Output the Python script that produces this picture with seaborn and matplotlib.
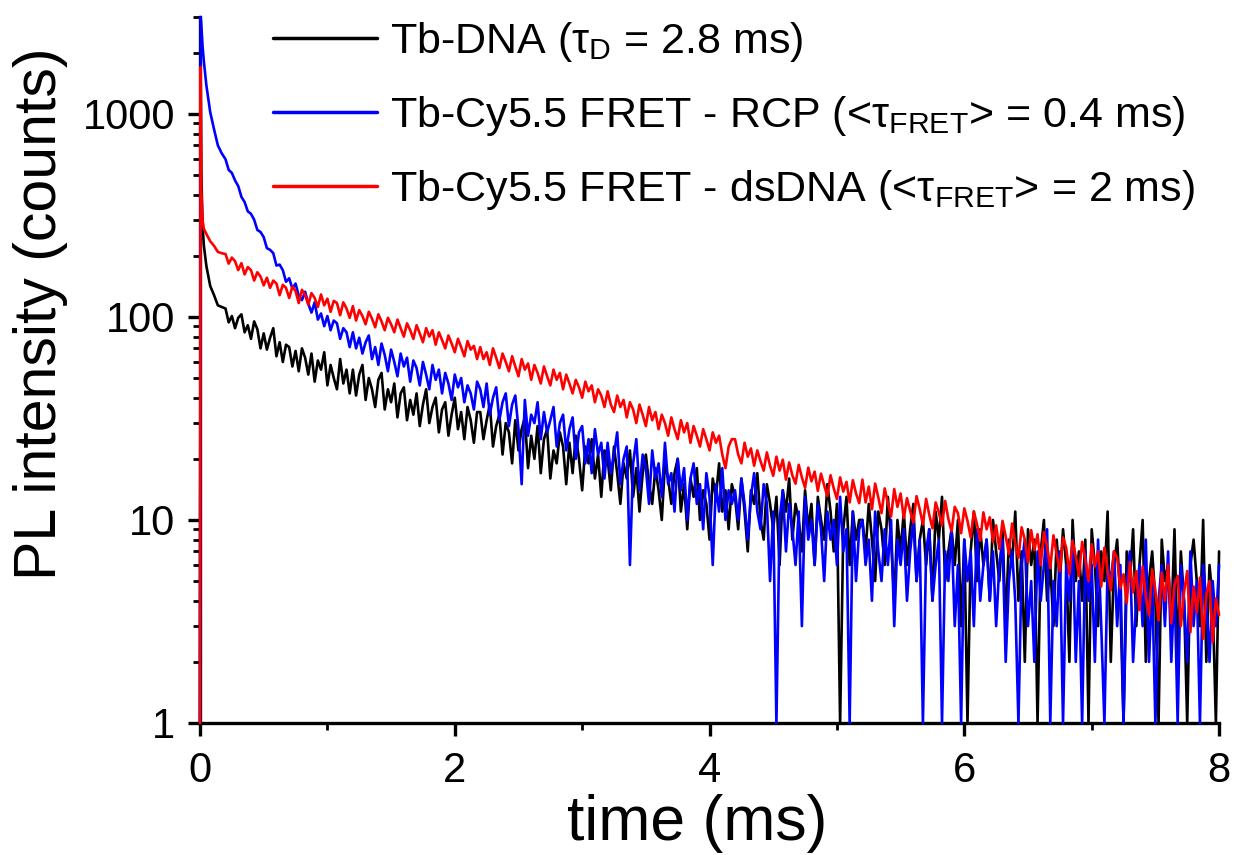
import numpy as np
import pandas as pd
import matplotlib
matplotlib.use('Agg')
import matplotlib.pyplot as plt
import seaborn as sns

# early (fast) part of the decays, time in ms
t_early = [0, 0.005, 0.01, 0.02, 0.03, 0.05, 0.08, 0.11, 0.14, 0.17]
black_early = [1, 1500, 520, 280, 225, 178, 142, 128, 114, 112]
blue_early = [1, 3000, 2750, 2150, 1820, 1380, 1020, 840, 700, 640]
red_early = [1, 1700, 420, 300, 272, 256, 236, 224, 209, 206]

# rest of the decays, one channel every 0.025 ms starting at 0.2 ms
t_start, t_step = 0.2, 0.025

black_main = [
    110, 94, 101, 88, 99, 103, 84, 91, 78, 95,
    87, 70, 83, 69, 79, 88, 64, 75, 60, 73,
    71, 57, 68, 54, 70, 63, 52, 66, 48, 61,
    55, 67, 46, 58, 50, 44, 62, 47, 55, 42,
    55, 41, 52, 58, 39, 50, 44, 36, 49, 53,
    35, 44, 38, 47, 32, 42, 45, 31, 39, 33,
    42, 29, 37, 44, 30, 36, 40, 27, 35, 38,
    26, 33, 40, 28, 34, 25, 36, 31, 24, 34,
    34, 25, 31, 37, 23, 29, 33, 21, 30, 27,
    19, 31, 22, 28, 32, 18, 26, 20, 29, 17,
    25, 28, 16, 22, 19, 27, 23, 15, 24, 17,
    26, 20, 14, 23, 19, 25, 16, 21, 13, 22,
    20, 14, 23, 17, 12, 19, 16, 22, 13, 18,
    11, 17, 21, 15, 12, 18, 14, 10, 19, 16,
    12, 17, 20, 11, 15, 9, 16, 13, 18, 10,
    14, 12, 8, 16, 13, 19, 11, 14, 9, 15,
    13, 9, 16, 11, 7, 14, 12, 17, 10, 8,
    15, 12, 9, 13, 6, 14, 11, 16, 8, 12,
    10, 7, 14, 9, 12, 6, 13, 10, 8, 15,
    11, 7, 12, 1, 9, 13, 6, 11, 8, 10,
    10, 7, 12, 8, 5, 11, 9, 6, 13, 8,
    4, 10, 7, 11, 6, 9, 12, 5, 8, 10,
    6, 9, 4, 11, 8, 13, 5, 7, 9, 6,
    10, 3, 8, 1, 7, 11, 5, 9, 6, 8,
    4, 10, 7, 5, 9, 3, 8, 6, 11, 4,
    7, 2, 9, 6, 8, 1, 7, 10, 4, 6,
    3, 8, 5, 9, 6, 2, 10, 5, 7, 4,
    8, 1, 9, 6, 3, 7, 5, 11, 2, 6,
    8, 4, 1, 7, 5, 9, 3, 6, 10, 2,
    5, 7, 4, 1, 8, 5, 6, 3, 9, 2,
    7, 4, 1, 6, 8, 5, 3, 10, 2, 6,
    4, 1, 7,
]

blue_main = [
    598, 530, 512, 470, 441, 390, 368, 331, 322, 301,
    268, 262, 247, 218, 214, 206, 179, 181, 170, 149,
    155, 138, 146, 127, 121, 133, 116, 105, 118, 97,
    104, 90, 101, 86, 96, 93, 78, 88, 84, 71,
    84, 70, 79, 66, 75, 81, 62, 71, 58, 74,
    65, 54, 69, 60, 51, 66, 57, 63, 48, 61,
    56, 46, 60, 52, 44, 58, 49, 55, 42, 53,
    47, 39, 52, 45, 50, 38, 46, 42, 35, 48,
    44, 36, 47, 33, 40, 45, 31, 38, 42, 29,
    37, 41, 28, 15, 39, 26, 33, 30, 38, 25,
    34, 27, 31, 36, 23, 30, 33, 22, 28, 32,
    20, 27, 29, 19, 25, 17, 28, 21, 24, 16,
    24, 17, 21, 27, 15, 20, 23, 6, 19, 25,
    14, 21, 18, 12, 22, 16, 19, 13, 24, 15,
    17, 11, 20, 14, 18, 10, 16, 19, 12, 15,
    9, 17, 13, 6, 15, 11, 18, 10, 14, 12,
    14, 10, 16, 12, 8, 13, 17, 11, 9, 15,
    12, 5, 11, 1, 10, 14, 7, 12, 9, 6,
    11, 3, 13, 8, 10, 6, 12, 9, 5, 11,
    8, 10, 6, 13, 7, 9, 1, 11, 5, 9,
    10, 6, 8, 4, 11, 7, 5, 9, 6, 10,
    3, 8, 6, 9, 4, 7, 10, 5, 8, 1,
    7, 9, 4, 6, 8, 1, 7, 5, 9, 3,
    6, 1, 8, 5, 7, 3, 9, 4, 6, 8,
    4, 7, 3, 6, 8, 2, 5, 7, 4, 1,
    6, 8, 3, 5, 2, 7, 4, 6, 9, 1,
    5, 3, 7, 1, 6, 4, 8, 2, 5, 1,
    7, 4, 6, 2, 8, 3, 1, 6, 5, 7,
    3, 6, 1, 5, 7, 2, 4, 6, 3, 8,
    2, 5, 1, 4, 6, 3, 7, 2, 5, 1,
    6, 4, 2, 7, 3, 5, 1, 6, 4, 2,
    5, 3, 6,
]

red_main = [
    204, 183, 196, 188, 170, 184, 162, 176, 170, 151,
    166, 158, 143, 156, 139, 151, 146, 128, 144, 139,
    124, 141, 134, 117, 136, 128, 115, 131, 124, 112,
    129, 114, 123, 106, 120, 117, 102, 118, 110, 99,
    113, 96, 108, 101, 92, 106, 98, 89, 103, 95,
    86, 99, 92, 84, 97, 88, 80, 93, 86, 78,
    91, 83, 75, 88, 80, 86, 73, 84, 77, 70,
    81, 74, 67, 78, 71, 64, 76, 69, 72, 62,
    71, 62, 67, 58, 70, 63, 56, 66, 60, 54,
    64, 57, 51, 62, 55, 59, 49, 58, 53, 47,
    57, 51, 46, 55, 49, 53, 44, 52, 47, 42,
    49, 45, 40, 48, 43, 46, 38, 44, 41, 36,
    43, 37, 34, 41, 36, 39, 32, 38, 35, 30,
    37, 33, 29, 36, 31, 34, 28, 33, 30, 26,
    32, 28, 25, 31, 27, 30, 24, 29, 26, 23,
    28, 25, 22, 27, 24, 26, 21, 18, 23, 25,
    25, 21, 19, 24, 20.5, 22.5, 18.5, 22, 19.5, 17.5,
    21.5, 18.5, 16.5, 20.5, 17.5, 19.8, 15.8, 19.2, 16.6, 15.1,
    18.7, 16.2, 14.4, 18.1, 15.5, 17.3, 13.9, 16.9, 14.8, 13.1,
    16.6, 14.3, 12.7, 16.2, 13.8, 15.4, 12.2, 15.7, 13.5, 12.1,
    15.8, 12.2, 14.6, 11.3, 15.1, 12.9, 10.8, 14.3, 12.1, 10.4,
    14.2, 11.6, 13.5, 10.2, 12.8, 11.1, 9.7, 13.1, 11.3, 9.5,
    12.7, 10.6, 9.1, 12.2, 10.9, 9.4, 12.4, 10.1, 8.8, 11.6,
    10.8, 8.6, 11.4, 9.9, 8.2, 11.0, 9.5, 7.9, 10.9, 9.0,
    10.3, 7.8, 9.4, 7.2, 9.9, 8.3, 6.8, 9.6, 7.7, 6.5,
    9.2, 8.0, 6.2, 8.9, 7.1, 8.5, 6.0, 8.7, 7.4, 5.8,
    8.4, 6.8, 5.6, 8.2, 7.3, 5.4, 7.9, 6.6, 5.3, 7.8,
    6.4, 5.0, 7.6, 5.9, 7.0, 4.7, 7.3, 5.6, 4.5, 7.0,
    6.5, 4.6, 5.4, 3.9, 6.2, 4.4, 5.6, 3.6, 5.9, 4.2,
    3.4, 5.7, 4.5, 3.2, 5.5, 4.0, 6.0, 3.1, 4.8, 5.3,
    3.0, 4.4, 5.6, 2.8, 4.7, 3.5, 5.2, 2.6, 4.3, 5.0,
    2.5, 4.1, 3.4,
]

labels = [
    'Tb-DNA (τ$_\\mathregular{D}$ = 2.8 ms)',
    'Tb-Cy5.5 FRET - RCP (<τ$_\\mathregular{FRET}$> = 0.4 ms)',
    'Tb-Cy5.5 FRET - dsDNA (<τ$_\\mathregular{FRET}$> = 2 ms)',
]
colors = ['#000000', '#0000ff', '#ff0000']


def series(early_t, early_v, main_v, name):
    t_main = t_start + t_step * np.arange(len(main_v))
    return pd.DataFrame({
        'time': np.concatenate([early_t, t_main]),
        'counts': np.concatenate([early_v, main_v]),
        'sample': name,
    })


df = pd.concat([
    series(t_early, black_early, black_main, labels[0]),
    series(t_early, blue_early, blue_main, labels[1]),
    series(t_early, red_early, red_main, labels[2]),
], ignore_index=True)

sns.set_style('ticks')
plt.rcParams['font.family'] = ['Liberation Sans', 'DejaVu Sans']
plt.rcParams['mathtext.fontset'] = 'custom'
plt.rcParams['mathtext.rm'] = 'Liberation Sans'
for key in ['text.color', 'axes.labelcolor', 'xtick.color', 'ytick.color', 'axes.edgecolor']:
    plt.rcParams[key] = 'black'

fig = plt.figure(figsize=(12.37, 8.55), dpi=100)
ax = fig.add_axes([0.1617, 0.1544, 0.8238, 0.8257])

sns.lineplot(data=df, x='time', y='counts', hue='sample',
             palette=dict(zip(labels, colors)), hue_order=labels,
             estimator=None, sort=False, lw=1.9, ax=ax)
# curves sit on top of the spines, as in the original plot
for line in ax.get_lines():
    line.set_zorder(3)
    line.set_clip_on(False)

ax.set_yscale('log')
ax.set_xlim(0, 8)
ax.set_ylim(1, 3000)
ax.set_xticks([0, 2, 4, 6, 8])
ax.set_xticks([1, 3, 5, 7], minor=True)
ax.set_yticks([1, 10, 100, 1000])
ax.set_yticklabels(['1', '10', '100', '1000'])

for side in ['top', 'right']:
    ax.spines[side].set_visible(False)
for side in ['left', 'bottom']:
    ax.spines[side].set_linewidth(2.4)
ax.tick_params(which='major', length=9, width=2.4, labelsize=30, direction='out')
ax.tick_params(which='minor', length=5, width=2.0, direction='out')
ax.tick_params(axis='x', which='major', pad=11)
ax.tick_params(axis='y', which='major', pad=9)

ax.set_xlabel('time (ms)', fontsize=45)
ax.set_ylabel('PL intensity (counts)', fontsize=42.5)
ax.xaxis.set_label_coords(0.488, -0.1)
ax.yaxis.set_label_coords(-0.13, 0.58)

leg = ax.legend(loc='upper left', bbox_to_anchor=(0.055, 1.02), frameon=False,
                fontsize=31, handlelength=2.4, handletextpad=0.3,
                labelspacing=0.7, borderaxespad=0)
for line in leg.get_lines():
    line.set_linewidth(2.5)

fig.savefig('out.png', dpi=100)
